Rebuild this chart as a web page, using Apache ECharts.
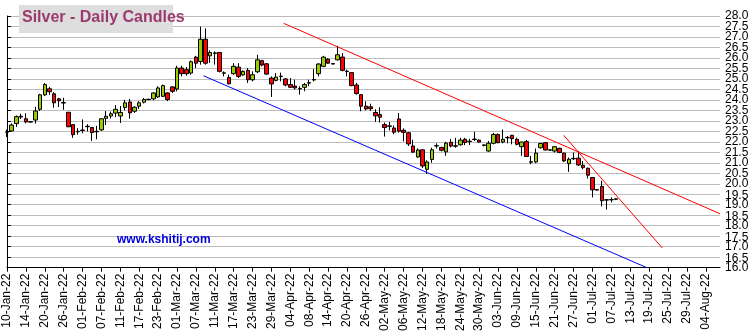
<!DOCTYPE html>
<html>
<head>
<meta charset="utf-8">
<script src="https://cdn.jsdelivr.net/npm/echarts@6/dist/echarts.min.js"></script>
<style>
html,body{margin:0;padding:0;background:#fff;}
#chart{width:753px;height:334px;}
</style>
</head>
<body>
<div id="chart"></div>
<script>
// ---- Axis categories: weekdays from 10-Jan-22 to 09-Aug-22 ----
const startDate = [2022, 0, 10];
const categoryCount = 152;
const monthNames = ['Jan','Feb','Mar','Apr','May','Jun','Jul','Aug','Sep','Oct','Nov','Dec'];
const categories = [];
(function(){
  const d = new Date(Date.UTC(startDate[0], startDate[1], startDate[2]));
  while (categories.length < categoryCount) {
    const wd = d.getUTCDay();
    if (wd !== 0 && wd !== 6) {
      const dd = String(d.getUTCDate()).padStart(2,'0');
      categories.push(dd + '-' + monthNames[d.getUTCMonth()] + '-' + String(d.getUTCFullYear()).slice(2));
    }
    d.setUTCDate(d.getUTCDate() + 1);
  }
})();

// ---- Daily OHLC ----
const opens = [22.46,22.52,22.87,23.18,23.10,22.96,23.04,23.55,24.24,24.53,
24.29,24.05,23.87,23.41,22.82,22.48,22.54,22.72,22.68,22.48,
22.57,23.12,23.23,23.37,23.23,23.64,23.90,23.46,23.70,23.89,
24.01,24.05,24.14,24.17,24.33,24.62,24.52,25.52,25.44,25.28,
26.04,25.83,26.89,26.10,26.22,26.26,25.27,25.07,25.25,25.56,
25.19,25.41,24.96,25.34,25.87,25.72,25.04,24.93,25.11,25.00,
24.73,24.66,24.54,24.60,24.80,24.95,25.25,25.60,25.94,25.73,
25.91,26.04,25.37,25.30,24.71,24.25,23.70,23.67,23.40,23.30,
22.82,22.76,22.66,23.09,22.55,22.43,21.80,21.28,21.62,20.69,
21.16,21.80,21.73,21.52,21.98,21.79,21.86,22.12,22.01,22.11,
22.08,21.85,21.56,21.93,22.35,21.99,22.19,22.31,22.12,21.77,
22.01,21.03,21.04,21.72,21.96,21.60,21.56,21.69,21.46,20.96,
21.19,21.22,20.88,20.74,20.30,19.72,19.87,19.22,19.23,19.26];
const highs = [22.58,22.88,23.26,23.34,23.36,22.97,23.67,24.29,24.80,24.62,
24.37,24.10,24.10,23.42,22.83,22.65,23.07,22.84,22.71,22.76,
23.11,23.47,23.44,23.75,23.71,24.00,24.05,23.70,23.94,24.09,
24.05,24.36,24.65,24.73,24.36,24.65,25.63,25.63,25.57,25.88,
26.10,27.49,27.41,26.36,26.31,26.27,25.36,25.20,25.75,25.75,
25.41,25.52,25.36,26.15,25.91,25.75,25.12,25.28,25.30,25.04,
25.04,24.96,24.65,24.81,24.96,25.47,25.75,26.10,25.99,25.75,
26.58,26.23,25.44,25.31,24.81,24.27,23.93,23.82,23.55,23.65,
22.92,22.95,22.78,23.37,22.64,22.47,22.10,21.69,21.64,21.12,
21.72,21.93,21.77,22.00,22.14,22.19,22.19,22.19,22.15,22.48,
22.12,21.88,22.04,22.43,22.40,22.59,22.28,22.33,22.20,22.00,
22.09,21.33,21.68,21.96,21.97,21.64,21.80,21.72,21.49,21.25,
21.49,21.56,21.09,20.77,20.30,19.75,20.14,19.27,19.35,19.30];
const lows = [22.23,22.50,22.71,23.09,22.88,22.93,22.87,23.47,24.18,24.24,
23.63,23.66,23.53,22.70,22.19,22.34,22.41,22.49,22.04,22.12,
22.52,22.80,23.12,23.18,22.90,23.50,23.10,23.38,23.57,23.83,
23.99,23.98,24.09,24.14,23.94,24.33,24.41,25.12,25.15,25.20,
25.52,25.68,25.68,25.76,25.68,25.31,25.12,24.73,25.20,25.04,
25.15,24.81,24.88,25.28,25.60,25.20,24.14,24.88,24.88,24.65,
24.57,24.49,24.25,24.41,24.65,24.88,25.12,25.56,25.72,25.69,
25.88,25.36,25.12,24.65,24.25,23.46,23.50,23.47,22.95,22.92,
22.25,22.55,22.36,22.44,22.02,21.80,21.46,21.24,20.75,20.47,
21.00,21.68,21.54,21.33,21.73,21.72,21.82,21.84,21.85,22.04,
21.97,21.78,21.52,21.88,21.93,21.93,21.93,21.88,21.83,21.33,
21.28,20.93,20.98,21.68,21.59,21.58,21.49,21.46,21.04,20.57,
21.14,20.85,20.69,20.25,19.35,19.67,18.92,18.77,19.11,19.22];
const closes = [22.48,22.80,23.20,23.22,22.95,22.94,23.47,24.24,24.73,24.39,
23.86,23.96,23.85,22.72,22.34,22.50,22.56,22.74,22.44,22.50,
23.10,23.22,23.34,23.55,23.40,23.86,23.38,23.65,23.86,24.02,
24.03,24.33,24.57,24.68,24.02,24.41,25.52,25.25,25.25,25.82,
25.75,26.89,25.75,26.26,26.24,25.36,25.29,24.77,25.60,25.12,
25.36,24.96,25.20,25.91,25.66,25.23,24.76,25.09,25.13,24.71,
24.60,24.57,24.52,24.73,24.82,24.97,25.71,26.04,25.75,25.71,
26.15,25.41,25.35,24.68,24.30,23.70,23.57,23.58,23.24,23.17,
22.68,22.74,22.46,22.51,22.45,21.90,21.51,21.61,20.85,21.04,
21.62,21.82,21.60,21.94,21.80,21.81,22.08,21.97,22.03,22.13,
21.99,21.83,21.93,22.35,21.96,22.12,22.21,22.15,21.88,21.99,
21.30,21.05,21.46,21.92,21.61,21.62,21.77,21.49,21.09,21.17,
21.21,20.90,20.77,20.41,19.71,19.70,19.19,19.24,19.25,19.28];

// ---- Trend lines: [day index, price] end points ----
const upperRedLine = [[58.6, 27.65], [151, 18.57]];
const lowerBlueLine = [[41.6, 25.15], [135.5, 16.0]];
const steepRedLine = [[117.9, 22.31], [138.8, 16.93]];

// ---- Y axis ticks ----
const yMin = 16, yMax = 28, yStep = 0.5;

const candleData = opens.map((o, i) => [o, closes[i], lows[i], highs[i]]);

// layout: main plot area, plus a copy shifted half a tick step for the x.5 labels
const G = {left: 7, right: 33, top: 16, bottom: 65, height: 334};
const plotH = G.height - G.top - G.bottom;
const halfStepPx = plotH / ((yMax - yMin) / yStep) ;

const chart = echarts.init(document.getElementById('chart'), null, {renderer: 'canvas'});
const font = 'Liberation Sans, Arial, sans-serif';
const yLabelStyle = {fontSize: 12, color: '#000', fontFamily: font, margin: 5, formatter: v => v.toFixed(1)};
chart.setOption({
  animation: false,
  backgroundColor: '#ffffff',
  grid: [
    {left: G.left, right: G.right, top: G.top, bottom: G.bottom, containLabel: false},
    {left: G.left, right: G.right, top: G.top + halfStepPx, bottom: G.bottom - halfStepPx, containLabel: false}
  ],
  xAxis: [{
    type: 'category', gridIndex: 0,
    data: categories,
    boundaryGap: false,
    axisLine: {show: true, lineStyle: {color: '#000', width: 1}},
    axisTick: {show: true, interval: 3, length: 4, lineStyle: {color: '#000'}},
    axisLabel: {show: true, interval: 3, rotate: 90, fontSize: 12, color: '#000', fontFamily: font, margin: 6},
    splitLine: {show: false}
  }, {
    type: 'value', gridIndex: 0, min: 0, max: categoryCount - 1, show: false
  }, {
    type: 'value', gridIndex: 1, min: 0, max: 1, show: false
  }],
  yAxis: [{
    type: 'value', gridIndex: 0, position: 'right', min: yMin, max: yMax, interval: yStep,
    axisLine: {show: true, lineStyle: {color: '#000', width: 1}},
    axisTick: {show: true, length: 4, lineStyle: {color: '#000'}},
    axisLabel: {show: false},
    splitLine: {show: true, lineStyle: {color: '#bcbcbc', width: 1}}
  }, {
    type: 'value', gridIndex: 0, position: 'right', min: yMin, max: yMax, interval: 2 * yStep,
    axisLine: {show: false}, axisTick: {show: false}, splitLine: {show: false},
    axisLabel: Object.assign({showMinLabel: true, showMaxLabel: true}, yLabelStyle)
  }, {
    type: 'value', gridIndex: 1, position: 'right', min: yMin - yStep, max: yMax - yStep, interval: 2 * yStep,
    axisLine: {show: false}, axisTick: {show: false}, splitLine: {show: false},
    axisLabel: Object.assign({showMinLabel: false, showMaxLabel: true}, yLabelStyle)
  }],
  series: [{
    type: 'candlestick',
    xAxisIndex: 0, yAxisIndex: 0,
    data: candleData,
    barWidth: 4,
    itemStyle: {color: '#99cc00', color0: '#ff0000', borderColor: '#000', borderColor0: '#000', borderWidth: 1}
  }, {
    type: 'line', xAxisIndex: 1, yAxisIndex: 0, data: upperRedLine, symbol: 'none',
    lineStyle: {color: '#ff0000', width: 1}, z: 5
  }, {
    type: 'line', xAxisIndex: 1, yAxisIndex: 0, data: lowerBlueLine, symbol: 'none',
    lineStyle: {color: '#0000ff', width: 1}, z: 5
  }, {
    type: 'line', xAxisIndex: 1, yAxisIndex: 0, data: steepRedLine, symbol: 'none',
    lineStyle: {color: '#ff0000', width: 1}, z: 5
  }],
  graphic: [{
    type: 'rect', left: 19, top: 5, z: 100,
    shape: {width: 154, height: 28},
    style: {fill: '#dedede'}
  }, {
    type: 'text', left: 22, top: 10, z: 101,
    style: {text: 'Silver - Daily Candles', fill: '#9b3a6e', font: 'bold 16px ' + font}
  }, {
    type: 'text', left: 117, top: 234, z: 101,
    style: {text: 'www.kshitij.com', fill: '#0000dd', font: 'bold 12px ' + font}
  }]
});
</script>
</body>
</html>
